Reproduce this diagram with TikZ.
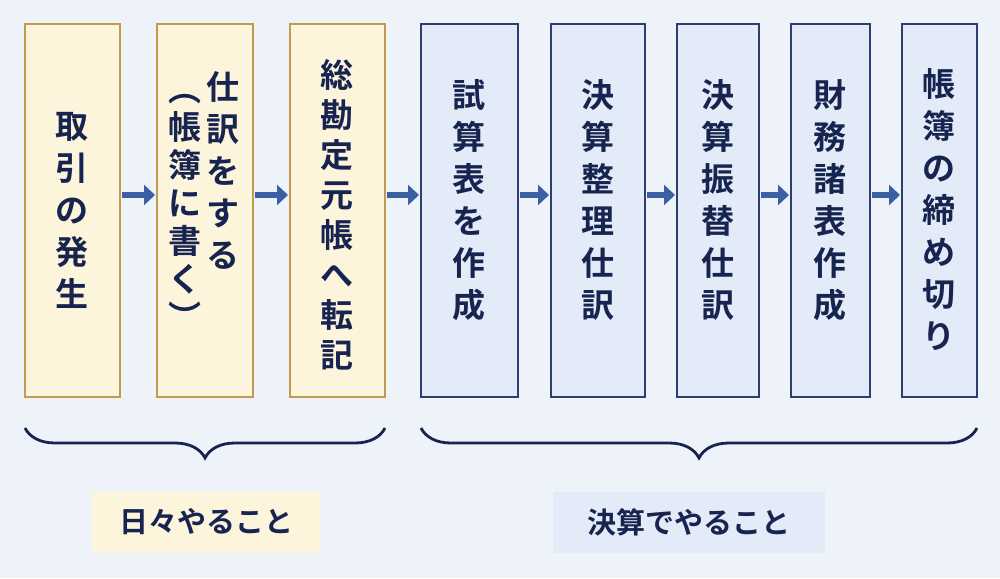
\documentclass[tikz,border=0pt]{standalone}
\usepackage{fontspec}
\newfontfamily\cjk{Noto Sans CJK JP}[BoldFont={* Bold}]
\usetikzlibrary{decorations.pathreplacing,arrows.meta}
\definecolor{bgblue}{HTML}{EEF3FA}
\definecolor{navy}{HTML}{16244F}
\definecolor{tanline}{HTML}{C39A52}
\definecolor{creamfill}{HTML}{FDF4DC}
\definecolor{paleblue}{HTML}{E2EBF7}
\definecolor{boxline}{HTML}{2D3F6F}
\definecolor{arrowblue}{HTML}{3A5FA3}
\tikzset{
  daily/.style={draw=tanline, fill=creamfill, line width=2.5pt},
  closing/.style={draw=boxline, fill=paleblue, line width=2.5pt},
  vtext/.style={text=navy, font=\cjk\bfseries\fontsize{33}{42}\selectfont, align=center, inner sep=0pt},
  nextstep/.style={-{Triangle[length=11pt,width=20pt]}, arrowblue, line width=6pt},
  groupbrace/.style={decorate, decoration={brace, amplitude=30pt, mirror}, navy, line width=2.8pt},
  tag/.style={text=navy, font=\cjk\bfseries\fontsize{29}{32}\selectfont, minimum height=61pt, inner sep=0pt}
}
\begin{document}
\begin{tikzpicture}[x=1pt,y=-1pt]
  \fill[bgblue] (0,0) rectangle (1000,578);
  \useasboundingbox (0,0) rectangle (1000,578);
  % daily steps
  \draw[daily] (25,24) rectangle (120,397);
  \draw[daily] (157,24) rectangle (253,397);
  \draw[daily] (290,24) rectangle (385,397);
  % closing steps
  \draw[closing] (421,24) rectangle (518,397);
  \draw[closing] (551,24) rectangle (645,397);
  \draw[closing] (677,24) rectangle (759,397);
  \draw[closing] (791,24) rectangle (870,397);
  \draw[closing] (902,24) rectangle (977,397);
  % labels
  \node[vtext] (s1) at (72,210) {取\\引\\の\\発\\生};
  \node[vtext] (s2a) at (223,170) {仕\\訳\\を\\す\\る};
  \node[vtext, font=\cjk\bfseries\fontsize{33}{38}\selectfont] (s2b) at (185,212) {︵\\帳\\簿\\に\\書\\く\\︶};
  \node[vtext, font=\cjk\bfseries\fontsize{33}{40}\selectfont] (s3) at (337,215) {総\\勘\\定\\元\\帳\\へ\\転\\記};
  \node[vtext] (s4) at (469,200) {試\\算\\表\\を\\作\\成};
  \node[vtext] (s5) at (598,200) {決\\算\\整\\理\\仕\\訳};
  \node[vtext] (s6) at (718,200) {決\\算\\振\\替\\仕\\訳};
  \node[vtext] (s7) at (830,200) {財\\務\\諸\\表\\作\\成};
  \node[vtext] (s8) at (939,210) {帳\\簿\\の\\締\\め\\切\\り};
  % arrows
  \coordinate (a1) at (122,195); \coordinate (b1) at (155,195);
  \coordinate (a2) at (255,195); \coordinate (b2) at (288,195);
  \coordinate (a3) at (387,195); \coordinate (b3) at (419,195);
  \coordinate (a4) at (520,195); \coordinate (b4) at (549,195);
  \coordinate (a5) at (647,195); \coordinate (b5) at (675,195);
  \coordinate (a6) at (761,195); \coordinate (b6) at (789,195);
  \coordinate (a7) at (872,195); \coordinate (b7) at (900,195);
  \foreach \i in {1,...,7} \draw[nextstep] (a\i) -- (b\i);
  % braces
  \coordinate (l1) at (25,428); \coordinate (l2) at (385,428);
  \coordinate (r1) at (421,428); \coordinate (r2) at (977,428);
  \draw[groupbrace] (l1) -- (l2);
  \draw[groupbrace] (r1) -- (r2);
  % tags
  \node[tag, fill=creamfill, minimum width=228pt] (t1) at (206,522) {日々やること};
  \node[tag, fill=paleblue, minimum width=272pt] (t2) at (689,522) {決算でやること};
\end{tikzpicture}
\end{document}
